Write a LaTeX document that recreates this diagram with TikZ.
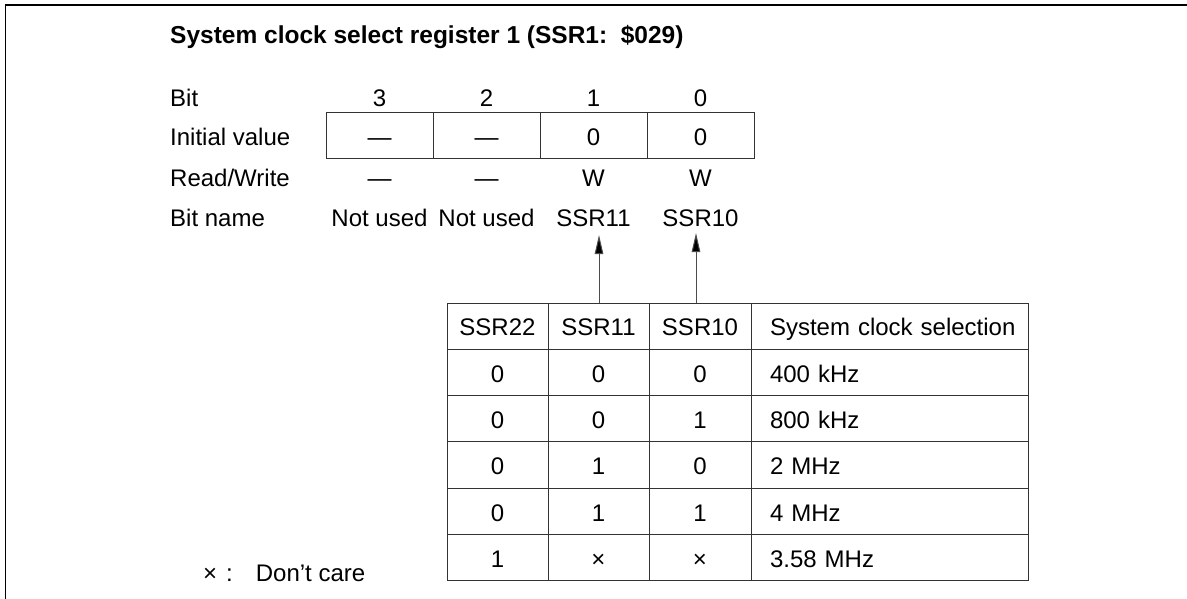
\documentclass[tikz,border=0pt]{standalone}
\usepackage{fontspec}
\setmainfont{Liberation Sans}
\usetikzlibrary{arrows.meta}
\begin{document}
\begin{tikzpicture}[x=1pt,y=-1pt,
  every node/.style={font=\fontsize{24}{28}\selectfont, inner sep=0pt},
  lbl/.style={anchor=base west},
  val/.style={anchor=base},
  cell/.style={draw=black!80, line width=1pt, minimum height=46.3pt, text height=19.6pt, text depth=0pt},
  regcell/.style={draw=black!80, line width=1pt, minimum width=107pt, minimum height=46pt, text height=19.6pt, text depth=0pt},
  wide/.style={cell, minimum width=277pt, text width=239pt, align=left},
  arr/.style={draw=black!70, line width=1pt, -{Triangle[length=19pt,width=8.5pt,fill=black]}},
  frame/.style={draw=black, line width=1.5pt}]
\useasboundingbox (0,0) rectangle (1187,599);
\path[frame] (1187,5) -- (5.5,5) -- (5.5,599);

\node[lbl, font=\fontsize{24.5}{28}\selectfont\bfseries] (title) at (170,44) {System clock select register 1 (SSR1:\ \ \$029)};

\node[lbl] (lbit) at (170,106.5) {Bit};
\node[lbl] (linit) at (170,146) {Initial value};
\node[lbl] (lrw) at (170,186) {Read/Write};
\node[lbl] (lname) at (170,226) {Bit name};

\node[val] (b3) at (379.5,106.5) {3};
\node[val] (b2) at (486.5,106.5) {2};
\node[val] (b1) at (593.5,106.5) {1};
\node[val] (b0) at (700.5,106.5) {0};

\node[regcell] (r3) at (379.5,136) {—};
\node[regcell] (r2) at (486.5,136) {—};
\node[regcell] (r1) at (593.5,136) {0};
\node[regcell] (r0) at (700.5,136) {0};

\node[val] (w3) at (379.5,186) {—};
\node[val] (w2) at (486.5,186) {—};
\node[val] (w1) at (593.5,186) {W};
\node[val] (w0) at (700.5,186) {W};

\node[val] (n3) at (379.5,226) {Not used};
\node[val] (n2) at (486.5,226) {Not used};
\node[val] (n1) at (593.5,226) {SSR11};
\node[val] (n0) at (700.5,226) {SSR10};

\node[cell, minimum width=101pt] (h1) at (497.5,326.15) {SSR22};
\node[cell, minimum width=101pt] (h2) at (598.5,326.15) {SSR11};
\node[cell, minimum width=102pt] (h3) at (700,326.15) {SSR10};
\node[wide] (h4) at (889.5,326.15) {\mbox{System clock selection}};

\foreach \a/\b/\c/\d [count=\i] in {0/0/0/400 kHz, 0/0/1/800 kHz, 0/1/0/2 MHz, 0/1/1/4 MHz, 1/×/×/3.58 MHz}{
  \pgfmathsetmacro\yy{326.15+46.3*\i}
  \node[cell, minimum width=101pt] (t\i a) at (497.5,\yy) {\a};
  \node[cell, minimum width=101pt] (t\i b) at (598.5,\yy) {\b};
  \node[cell, minimum width=102pt] (t\i c) at (700,\yy) {\c};
  \node[wide] (t\i d) at (889.5,\yy) {\mbox{\d}};
}

\coordinate (tip1) at (599,235);
\coordinate (tip0) at (696,233);
\draw[arr] ([xshift=0.5pt]h2.north) -- (tip1);
\draw[arr] ([xshift=-4pt]h3.north) -- (tip0);

\node[lbl] (legend) at (203,581) {×\hspace{9pt}:\hspace{23pt}Don’t care};
\end{tikzpicture}
\end{document}
